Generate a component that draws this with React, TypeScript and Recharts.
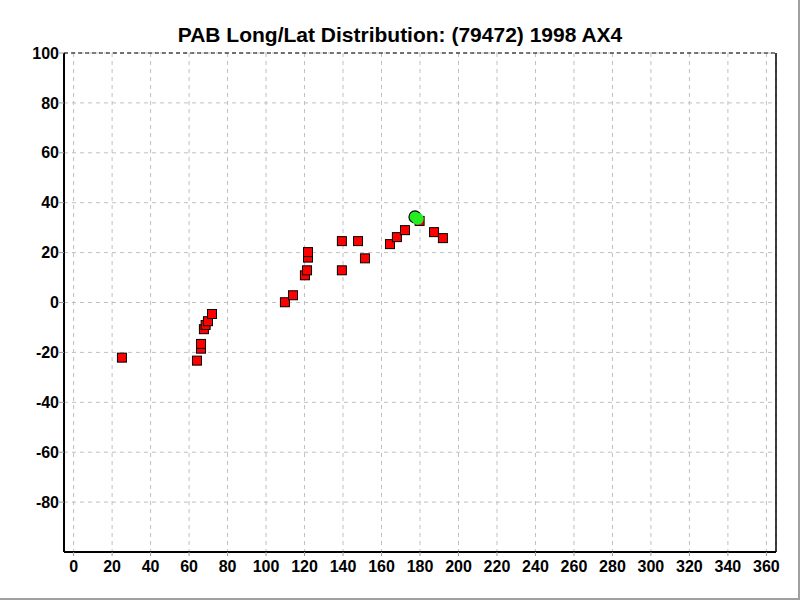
import { ScatterChart, Scatter, XAxis, YAxis, CartesianGrid, ReferenceLine } from 'recharts'

// observed positions (longitude deg, latitude deg)
const obsLong = [25.1, 64.1, 66.2, 66.2, 67.7, 68.6, 69.8, 71.9, 109.8, 114.0, 120.2, 121.3, 121.8, 121.8, 139.4, 139.4, 147.8, 151.4, 164.4, 168.0, 172.2, 179.8, 187.3, 191.9]
const obsLat = [-22.1, -23.3, -18.5, -16.6, -10.7, -9.0, -7.5, -4.6, 0.1, 2.9, 10.9, 12.9, 18.0, 20.2, 24.6, 12.9, 24.6, 17.7, 23.4, 26.2, 29.0, 32.7, 28.2, 25.8]

// current position markers
const curLong = [177.4, 178.8]
const curLat = [34.3, 33.6]

const xTicks = [0, 20, 40, 60, 80, 100, 120, 140, 160, 180, 200, 220, 240, 260, 280, 300, 320, 340, 360]
const yTicks = [-80, -60, -40, -20, 0, 20, 40, 60, 80, 100]

const obsData = obsLong.map((x, i) => ({ x, y: obsLat[i] }))
const curData = curLong.map((x, i) => ({ x, y: curLat[i], outline: i === 0 }))

const tickStyle = { fill: '#000', fontSize: 16, fontWeight: 700, fontFamily: '"Liberation Sans", Arial, sans-serif' }

// eslint-disable-next-line @typescript-eslint/no-explicit-any
const squareShape = (props: any) => {
  const { cx, cy } = props
  return <rect x={cx - 4.5} y={cy - 4.5} width={9} height={9} fill="#ff0000" stroke="#000" strokeWidth={1} />
}

// eslint-disable-next-line @typescript-eslint/no-explicit-any
const circleShape = (props: any) => {
  const { cx, cy, payload } = props
  return <circle cx={cx} cy={cy} r={6} fill="#22ee22" stroke={payload.outline ? '#000' : 'none'} strokeWidth={1.2} />
}

export default function App() {
  return (
    <div style={{ position: 'absolute', left: 0, top: 0, width: 800, height: 600, fontFamily: '"Liberation Sans", Arial, sans-serif', background: '#fff' }}>
      <div style={{ position: 'absolute', left: 0, right: 0, top: 23, textAlign: 'center', fontSize: 21, fontWeight: 700, color: '#000' }}>
        PAB Long/Lat Distribution: (79472) 1998 AX4
      </div>
      <div style={{ position: 'absolute', left: 0, top: 0 }}>
        <ScatterChart width={800} height={600} margin={{ top: 53, right: 24, bottom: 18, left: 8 }}>
          <CartesianGrid xAxisId="bottom" yAxisId="left" stroke="#c0c0c0" strokeDasharray="4 4" horizontal vertical />
          <XAxis
            xAxisId="bottom"
            type="number"
            dataKey="x"
            domain={[-5, 365]}
            ticks={xTicks}
            interval={0}
            allowDataOverflow
            height={30}
            tick={tickStyle}
            tickLine={{ stroke: '#999' }}
            tickSize={4}
            tickMargin={5}
            axisLine={{ stroke: '#000', strokeWidth: 2 }}
          />
          <YAxis
            yAxisId="left"
            type="number"
            dataKey="y"
            domain={[-100, 100]}
            ticks={yTicks}
            interval={0}
            allowDataOverflow
            width={56}
            tick={tickStyle}
            tickLine={{ stroke: '#999' }}
            tickSize={5}
            tickMargin={0}
            axisLine={{ stroke: '#000', strokeWidth: 2 }}
          />
          <ReferenceLine xAxisId="bottom" yAxisId="left" y={100} stroke="#000" strokeWidth={1} strokeDasharray="4 3" />
          <ReferenceLine xAxisId="bottom" yAxisId="left" x={365} stroke="#000" strokeWidth={1.5} />
          <Scatter xAxisId="bottom" yAxisId="left" data={obsData} shape={squareShape} isAnimationActive={false} />
          <Scatter xAxisId="bottom" yAxisId="left" data={curData} shape={circleShape} isAnimationActive={false} />
        </ScatterChart>
      </div>
      <div style={{ position: 'absolute', left: 0, top: 0, width: 798, height: 598, borderRight: '2px solid #a0a0a0', borderBottom: '2px solid #a0a0a0', pointerEvents: 'none' }} />
    </div>
  )
}
